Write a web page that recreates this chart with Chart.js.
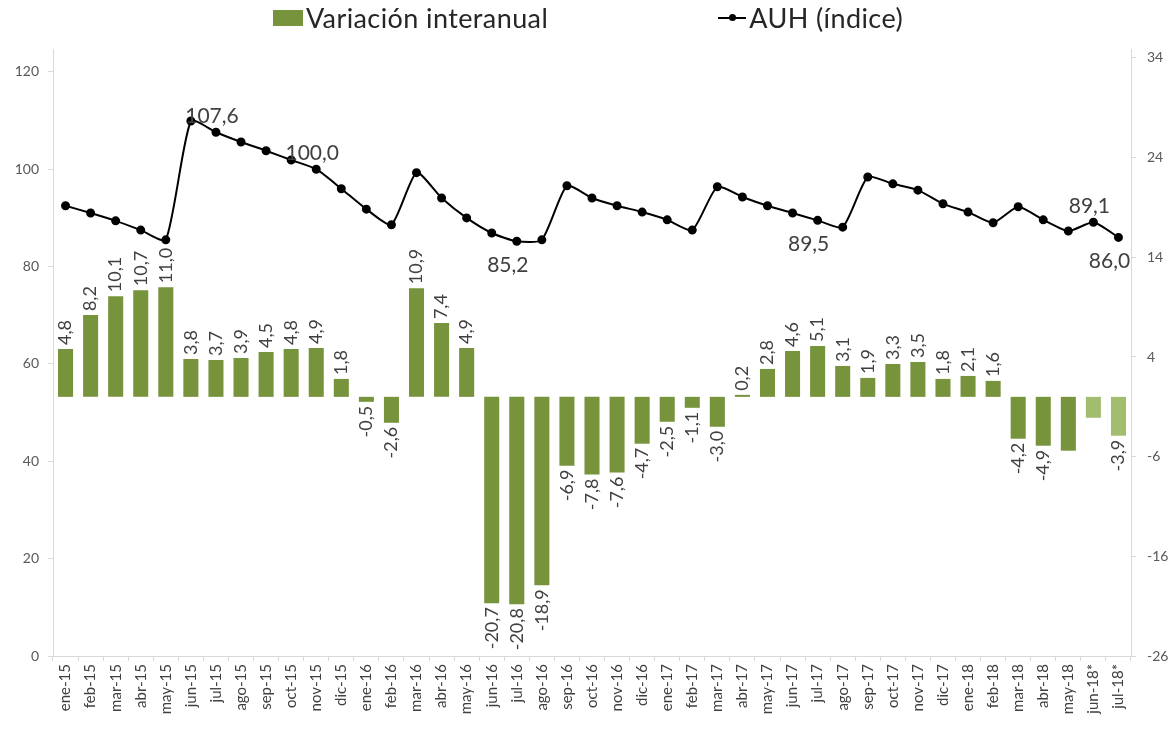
<!DOCTYPE html>
<html>
<head>
<meta charset="utf-8">
<script src="https://cdn.jsdelivr.net/npm/chart.js@4.4.1/dist/chart.umd.min.js"></script>
<style>
  html, body { margin: 0; padding: 0; background: #fff; }
  #wrap { position: relative; width: 1176px; height: 729px; }
  #legend {
    position: absolute; top: 1px; left: 0; width: 1176px;
    display: flex; justify-content: center; gap: 170px;
    font-family: Lato, sans-serif; font-size: 27px; letter-spacing: 0.4px; color: #262626;
  }
  .item { display: flex; align-items: center; }
  .box { width: 30px; height: 16px; background: #77933c; margin-right: 3px; }
  .mark { position: relative; width: 28px; height: 2px; background: #000; margin-right: 3px; }
  .mark::after { content: ''; position: absolute; left: 11px; top: -3px; width: 7px; height: 7px; border-radius: 50%; background: #000; }
</style>
</head>
<body>
<div id="wrap">
  <div id="legend">
    <div class="item"><span class="box"></span>Variación interanual</div>
    <div class="item"><span class="mark"></span>AUH (índice)</div>
  </div>
  <canvas id="chart" width="1176" height="729"></canvas>
</div>
<script>
// meses (eje X)
const months = [
  'ene-15', 'feb-15', 'mar-15', 'abr-15', 'may-15', 'jun-15', 'jul-15', 'ago-15', 'sep-15', 'oct-15', 'nov-15', 'dic-15',
  'ene-16', 'feb-16', 'mar-16', 'abr-16', 'may-16', 'jun-16', 'jul-16', 'ago-16', 'sep-16', 'oct-16', 'nov-16', 'dic-16',
  'ene-17', 'feb-17', 'mar-17', 'abr-17', 'may-17', 'jun-17', 'jul-17', 'ago-17', 'sep-17', 'oct-17', 'nov-17', 'dic-17',
  'ene-18', 'feb-18', 'mar-18', 'abr-18', 'may-18', 'jun-18*', 'jul-18*'
];

// Variación interanual (%), eje derecho
const variacion = [
  4.8, 8.2, 10.1, 10.7, 11.0, 3.8, 3.7, 3.9, 4.5, 4.8, 4.9, 1.8,
  -0.5, -2.6, 10.9, 7.4, 4.9, -20.7, -20.8, -18.9, -6.9, -7.8, -7.6, -4.7,
  -2.5, -1.1, -3.0, 0.2, 2.8, 4.6, 5.1, 3.1, 1.9, 3.3, 3.5, 1.8,
  2.1, 1.6, -4.2, -4.9, -5.4, -2.1, -3.9
];

// AUH (índice), eje izquierdo
const auh = [
  92.5, 91.0, 89.4, 87.5, 85.5, 109.9, 107.6, 105.6, 103.8, 101.9, 100.0, 96.0,
  91.8, 88.6, 99.3, 94.1, 90.0, 86.9, 85.2, 85.5, 96.6, 94.1, 92.5, 91.2,
  89.6, 87.5, 96.4, 94.3, 92.5, 91.0, 89.5, 88.1, 98.4, 97.0, 95.7, 92.9,
  91.2, 89.0, 92.3, 89.6, 87.3, 89.1, 86.0
];

const leftTicks = [0, 20, 40, 60, 80, 100, 120];
const rightTicks = [-26, -16, -6, 4, 14, 24, 34];

// meses sin etiqueta de barra, meses estimados (barra clara)
const hiddenBarLabels = ['may-18', 'jun-18*'];
const projected = ['jun-18*', 'jul-18*'];
// puntos de la línea con etiqueta
const auhLabelled = ['jul-15', 'nov-15', 'jul-16', 'jul-17', 'jun-18*', 'jul-18*'];
const auhBelow = ['jul-16', 'jul-17', 'jul-18*'];

const fmt = v => v.toFixed(1).replace('.', ',');

const valueLabels = {
  id: 'valueLabels',
  afterDatasetsDraw(chart) {
    const ctx = chart.ctx;
    ctx.save();
    ctx.fillStyle = '#404040';
    ctx.textBaseline = 'middle';

    // barras: texto vertical
    ctx.font = '18px Lato';
    chart.getDatasetMeta(1).data.forEach((bar, i) => {
      if (hiddenBarLabels.includes(months[i])) return;
      const v = variacion[i];
      ctx.save();
      ctx.translate(bar.x, v >= 0 ? bar.y - 4 : bar.y + 4);
      ctx.rotate(-Math.PI / 2);
      ctx.textAlign = v >= 0 ? 'left' : 'right';
      ctx.fillText(fmt(v), 0, 0);
      ctx.restore();
    });

    // línea
    ctx.font = '21px Lato';
    ctx.textAlign = 'center';
    chart.getDatasetMeta(0).data.forEach((pt, i) => {
      if (!auhLabelled.includes(months[i])) return;
      const below = auhBelow.includes(months[i]);
      ctx.fillText(fmt(auh[i]), below ? pt.x - 9 : pt.x - 4, below ? pt.y + 24 : pt.y - 16);
    });
    ctx.restore();
  }
};

const axisColor = '#d9d9d9';
const tickFont = { family: 'Lato', size: 14 };

new Chart(document.getElementById('chart'), {
  data: {
    labels: months,
    datasets: [{
      type: 'line',
      label: 'AUH (índice)',
      data: auh,
      yAxisID: 'y',
      borderColor: '#000',
      backgroundColor: '#000',
      borderWidth: 2,
      pointRadius: 3.5,
      pointHoverRadius: 3.5,
      tension: 0.2,
      order: 0
    }, {
      type: 'bar',
      label: 'Variación interanual',
      data: variacion,
      yAxisID: 'y1',
      backgroundColor: months.map(m => projected.includes(m) ? '#a3bd6f' : '#77933c'),
      barPercentage: 0.6,
      categoryPercentage: 1,
      order: 1
    }]
  },
  options: {
    responsive: false,
    animation: false,
    layout: { padding: { top: 49, left: 0, right: 0, bottom: 0 } },
    plugins: {
      legend: { display: false },
      tooltip: { enabled: false }
    },
    scales: {
      x: {
        offset: true,
        grid: { drawOnChartArea: false, color: axisColor, tickLength: 5 },
        border: { color: axisColor },
        ticks: {
          autoSkip: false, maxRotation: 90, minRotation: 90, padding: 3,
          color: '#404040', font: { family: 'Lato', size: 15 }
        },
        afterFit: s => { s.height = 73; }
      },
      y: {
        position: 'left',
        min: 0, max: 124.7,
        grid: { drawOnChartArea: false, color: axisColor, tickLength: 5 },
        border: { color: axisColor },
        ticks: { padding: 9, color: '#595959', font: tickFont },
        afterBuildTicks: s => { s.ticks = leftTicks.map(v => ({ value: v })); },
        afterFit: s => { s.width = 53; }
      },
      y1: {
        position: 'right',
        min: -26, max: 34.9,
        grid: { drawOnChartArea: false, color: axisColor, tickLength: 5 },
        border: { color: axisColor },
        ticks: { padding: 11, color: '#595959', font: tickFont },
        afterBuildTicks: s => { s.ticks = rightTicks.map(v => ({ value: v })); },
        afterFit: s => { s.width = 45; }
      }
    }
  },
  plugins: [valueLabels]
});
</script>
</body>
</html>
